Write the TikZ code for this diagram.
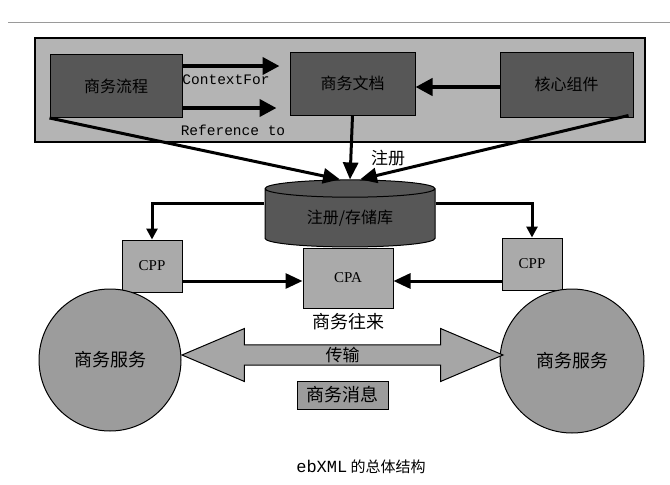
\documentclass[tikz,border=0pt]{standalone}
\usepackage{fontspec}
\usepackage{xcolor}
\usepackage{tikz}
\usetikzlibrary{arrows.meta,shapes.geometric,shapes.arrows}
\setmainfont{Liberation Serif}
\setmonofont{Liberation Mono}
\newfontfamily\cjk{Noto Sans CJK SC}
\definecolor{CB4B4B4}{HTML}{B4B4B4}
\definecolor{C575757}{HTML}{575757}
\definecolor{CAAAAAA}{HTML}{AAAAAA}
\definecolor{C9C9C9C}{HTML}{9C9C9C}
\definecolor{CA6A6A6}{HTML}{A6A6A6}
\definecolor{C9A9A9A}{HTML}{9A9A9A}

\begin{document}
\begin{tikzpicture}[inner sep=0pt,
  darkbox/.style={minimum height=63pt, minimum width=130pt, fill=C575757, draw, line width=1.0pt, align=center, font=\cjk\fontsize{16}{17}\selectfont},
  graybox/.style={fill=CAAAAAA, draw, line width=1.0pt, align=center, font=\fontsize{15}{16}\selectfont},
  svc/.style={shape=circle, fill=C9C9C9C, draw, line width=1.0pt, font=\cjk\fontsize{18}{19}\selectfont},
  lbl/.style={align=center, font=\cjk\fontsize{17}{18}\selectfont},
  codelbl/.style={align=center, font=\ttfamily\fontsize{14.5}{15}\selectfont},
  thickarrow/.style={-{Triangle[length=17pt,width=17pt]}, line width=4pt},
  linkarrow/.style={-{Triangle[length=17pt,width=15pt]}, line width=3pt},
  smallarrow/.style={-{Triangle[length=11pt,width=11pt]}, line width=3pt}]
\useasboundingbox (0pt,0pt) rectangle (670pt,-485pt);
\draw [line width=1pt, color=C9A9A9A] (8pt,-22pt) -- (670pt,-22pt);

\node (frame) [minimum height=104pt, minimum width=610pt, at={(340pt,-90pt)}, fill=CB4B4B4, draw, line width=1.5pt] {};
\node (bp) [darkbox, minimum width=132pt, at={(116pt,-86pt)}] {商务流程};
\node (bd) [darkbox, minimum width=125pt, at={(352.5pt,-83.5pt)}] {商务文档};
\node (cc) [darkbox, minimum width=133pt, minimum height=65pt, at={(566.5pt,-84.5pt)}] {核心组件};

\node (nctx) [codelbl, at={(226pt,-80pt)}] {ContextFor};
\node (nref) [codelbl, at={(233pt,-130pt)}] {Reference to};
\node (nreg) [lbl, at={(388pt,-158pt)}] {注册};

\node (cpa) [graybox, minimum height=60pt, minimum width=90pt, at={(348pt,-278pt)}] {CPA};
\node (reg) [shape=cylinder, shape border rotate=90, aspect=0.2, minimum height=67pt, minimum width=170pt, cylinder uses custom fill, cylinder body fill=C575757, cylinder end fill=C575757, draw, line width=1.0pt, align=center, font=\cjk\fontsize{16}{17}\selectfont, at={(350pt,-218pt)}] {注册/存储库};
\node (cppl) [graybox, minimum height=52pt, minimum width=60pt, at={(152pt,-266pt)}] {CPP};
\node (cppr) [graybox, minimum height=52pt, minimum width=60pt, at={(532pt,-264pt)}] {CPP};
\node (ndeal) [lbl, font=\cjk\fontsize{18}{19}\selectfont, at={(348pt,-322pt)}] {商务往来};

\node (bsl) [svc, minimum size=142pt, at={(110pt,-360pt)}] {商务服务};
\node (bsr) [svc, minimum size=144pt, at={(572pt,-361pt)}] {商务服务};
\node (trans) [shape=double arrow, double arrow head extend=13.5pt, double arrow tip angle=46, minimum height=321pt, minimum width=53pt, fill=CA6A6A6, draw, line width=1.0pt, font=\cjk\fontsize{17}{18}\selectfont, at={(342.5pt,-355pt)}] {传输};
\node (msg) [minimum height=28pt, minimum width=91pt, fill=C9C9C9C, draw, line width=1.0pt, font=\cjk\fontsize{18}{19}\selectfont, at={(342.5pt,-395pt)}] {商务消息};

\node (cap) [at={(361pt,-467pt)}] {\ttfamily\fontsize{17}{18}\selectfont ebXML\cjk\fontsize{15}{16}\selectfont\ 的总体结构};

% arrows in the frame
\path [thickarrow, draw, shorten >=10pt]([yshift=20pt]bp.east)--([yshift=17.5pt]bd.west);
\path [thickarrow, draw, shorten >=13pt]([yshift=-22pt]bp.east)--([yshift=-24.5pt]bd.west);
\path [thickarrow, draw]([yshift=-2.5pt]cc.west)--([yshift=-3.5pt]bd.east);

% into the registry
\path [linkarrow, draw](bp.south west)--([xshift=-10pt]reg.north);
\path [linkarrow, draw](bd.south)--(reg.north);
\path [linkarrow, draw]([xshift=-5pt,yshift=2pt]cc.south east)--([xshift=10pt]reg.north);

% registry to the profiles
\path [smallarrow, draw]([yshift=15pt]reg.west)-|(cppl.north);
\path [smallarrow, draw]([yshift=15pt]reg.east)-|(cppr.north);
\path [linkarrow, draw]([yshift=-15pt]cppl.east)--([yshift=-3pt]cpa.west);
\path [linkarrow, draw]([yshift=-17pt]cppr.west)--([yshift=-3pt]cpa.east);
\end{tikzpicture}
\end{document}
